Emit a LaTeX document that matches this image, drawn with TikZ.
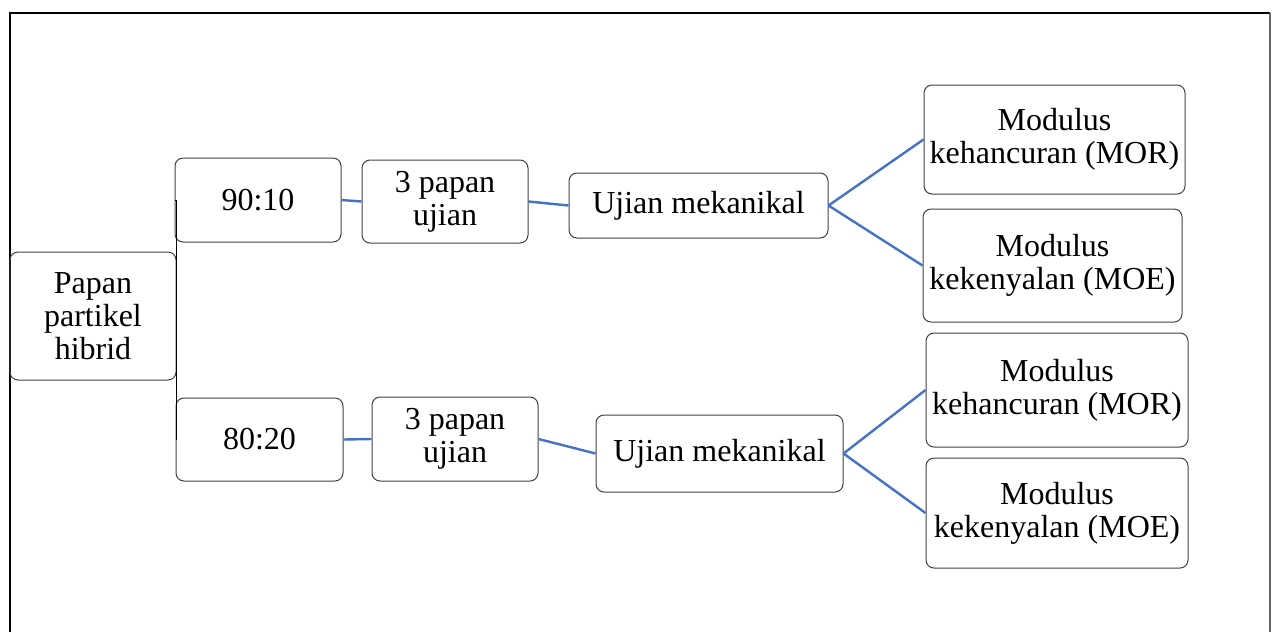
\documentclass[tikz,border=0pt]{standalone}
\usepackage{fontspec}
\setmainfont{Liberation Serif}
\usepackage{tikz}
\tikzset{font=\fontsize{16}{16.6}\selectfont}
\tikzset{
  tbox/.style={draw=black!75,line width=0.5pt,rounded corners=4pt,align=center,inner sep=0pt},
  bline/.style={draw={rgb,255:red,68;green,114;blue,196},line width=1.2pt},
  kline/.style={draw=black,line width=0.5pt}
}

\begin{document}
\begin{tikzpicture}[x=0.5pt,y=-0.5pt]
      \useasboundingbox (0,0) rectangle (1272,632);
      \draw[black,line width=1pt] (10,632) -- (10,12.5) -- (1270,12.5);
      \draw[black!60,line width=0.6pt] (1270,12.5) -- (1270,632);

      \node[tbox,minimum width=83pt,minimum height=64pt] (papan) at (93,316) {Papan\\partikel\\hibrid};
      \node[tbox,minimum width=83pt,minimum height=42pt] (r1) at (258,200) {90:10};
      \node[tbox,minimum width=83.5pt,minimum height=41.5pt] (r2) at (259.5,439.5) {80:20};
      \node[tbox,minimum width=83pt,minimum height=41.5pt] (u1) at (445,201.5) {3 papan\\ujian};
      \node[tbox,minimum width=83pt,minimum height=42pt] (u2) at (455,439) {3 papan\\ujian};
      \node[tbox,minimum width=129.5pt,minimum height=32.5pt] (m1) at (698.5,205.5) {Ujian mekanikal};
      \node[tbox,minimum width=123.5pt,minimum height=38.5pt] (m2) at (719.5,453.5) {Ujian mekanikal};
      \node[tbox,minimum width=130.5pt,minimum height=54.5pt] (mor1) at (1054.5,139.5) {Modulus\\kehancuran (MOR)};
      \node[tbox,minimum width=129.5pt,minimum height=56.5pt] (moe1) at (1052.5,265.5) {Modulus\\kekenyalan (MOE)};
      \node[tbox,minimum width=131pt,minimum height=57pt] (mor2) at (1057,390) {Modulus\\kehancuran (MOR)};
      \node[tbox,minimum width=131pt,minimum height=55pt] (moe2) at (1057,513) {Modulus\\kekenyalan (MOE)};

      \draw[kline] (papan.east) |- (r1.west);
      \draw[kline] (papan.east) |- (r2.west);

      \draw[bline] (r1.east) -- (u1.west);
      \draw[bline] (u1.east) -- (m1.west);
      \draw[bline] (m1.east) -- (mor1.west);
      \draw[bline] (m1.east) -- (moe1.west);

      \draw[bline] (r2.east) -- (u2.west);
      \draw[bline] (u2.east) -- (m2.west);
      \draw[bline] (m2.east) -- (mor2.west);
      \draw[bline] (m2.east) -- (moe2.west);
    \end{tikzpicture}
\end{document}
